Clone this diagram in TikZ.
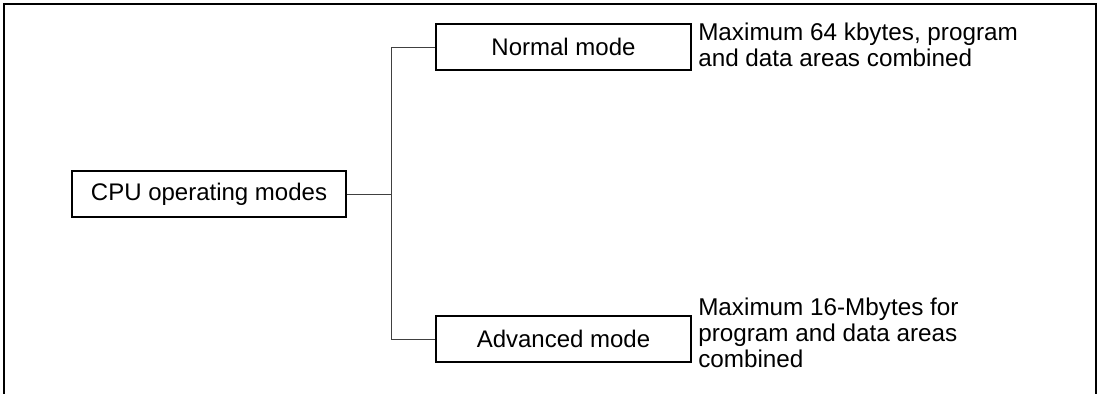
\documentclass[tikz,border=0pt]{standalone}
\usepackage{fontspec}
\setmainfont{Liberation Sans}
\begin{document}
\begin{tikzpicture}[x=0.75pt,y=-0.75pt,
  modebox/.style={draw=black,line width=0.9pt,minimum height=46*0.75pt,inner sep=0pt,
    font=\fontsize{18}{19.5}\selectfont},
  note/.style={anchor=base west,inner sep=0pt,align=left,font=\fontsize{18.2}{19.5}\selectfont},
  conn/.style={draw=black!75,line width=0.75pt},
  frame/.style={draw=black,line width=1.5pt}]
\useasboundingbox (0,0) rectangle (1100,393);
\draw[frame] (4,400) -- (4,4) -- (1096,4) -- (1096,400);
\node[modebox,minimum width=274*0.75pt] (cpu) at (209,194) {CPU operating modes};
\node[modebox,minimum width=255*0.75pt] (normal) at (563.5,47) {Normal mode};
\node[modebox,minimum width=255*0.75pt] (adv) at (563.5,339) {Advanced mode};
\coordinate (j) at (391,194);
\draw[conn] (cpu.east) -- (j);
\draw[conn] (j) |- (normal.west);
\draw[conn] (j) |- (adv.west);
\node[note] (nnote) at (698,66) {Maximum 64 kbytes, program\\and data areas combined};
\node[note] (anote) at (698,367) {Maximum 16-Mbytes for\\program and data areas\\combined};
\end{tikzpicture}
\end{document}
